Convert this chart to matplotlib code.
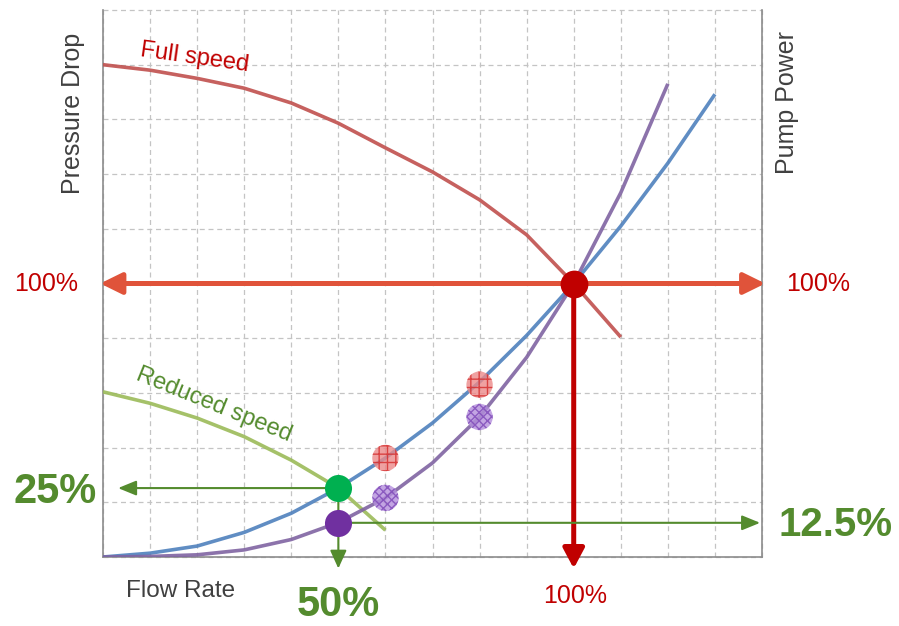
import matplotlib
matplotlib.use("Agg")
import matplotlib.pyplot as plt

plt.rcParams['font.family'] = ['Liberation Sans', 'DejaVu Sans']

# Full-speed pump curve (pressure drop vs flow)
full_x = [0, 1, 2, 3, 4, 5, 6, 7, 8, 9, 10, 11]
full_y = [9.0, 8.9, 8.75, 8.57, 8.3, 7.93, 7.48, 7.04, 6.53, 5.89, 5.0, 4.02]

# Reduced-speed pump curve
reduced_x = [0, 1, 2, 3, 4, 5, 6]
reduced_y = [3.02, 2.81, 2.54, 2.2, 1.77, 1.26, 0.49]

# System curve (pressure drop)
system_x = [0, 1, 2, 3, 4, 5, 6, 7, 8, 9, 10, 11, 12, 13]
system_y = [0, 0.07, 0.2, 0.45, 0.8, 1.26, 1.81, 2.45, 3.2, 4.05, 5.0, 6.05, 7.2, 8.46]

# Pump power curve
power_x = [0, 1, 2, 3, 4, 5, 6, 7, 8, 9, 10, 11, 12]
power_y = [0, 0.01, 0.04, 0.13, 0.32, 0.63, 1.08, 1.72, 2.56, 3.65, 5.0, 6.66, 8.65]

# Operating points
full_point = (10, 5.0)
reduced_pressure_point = (5, 1.26)
reduced_power_point = (5, 0.625)
pressure_marks_x = [6, 8]
pressure_marks_y = [1.81, 3.15]
power_marks_x = [6, 8]
power_marks_y = [1.08, 2.56]

W, H = 899, 626
fig = plt.figure(figsize=(W / 100, H / 100), dpi=100)
ax = fig.add_axes([103 / W, 1 - 557 / H, (762 - 103) / W, (557 - 10) / H])
ax.set_xlim(0, 14)
ax.set_ylim(0, 10)
ax.set_xticks(range(15))
ax.set_yticks(range(11))
ax.set_xticklabels([])
ax.set_yticklabels([])
ax.tick_params(length=0)
ax.grid(True, color='#C4C4C4', linestyle=(0, (4, 3)), linewidth=0.9)
for gl in ax.get_ygridlines() + ax.get_xgridlines():
    gl.set_clip_on(False)
ax.spines['top'].set_visible(False)
for s in ('left', 'right', 'bottom'):
    ax.spines[s].set_color('#8C8C8C')
    ax.spines[s].set_linewidth(1.2)

# Curves
ax.plot(full_x, full_y, color='#C0504D', lw=2.6, alpha=0.9, solid_capstyle='butt', zorder=3)
ax.plot(reduced_x, reduced_y, color='#9BBB59', lw=2.6, alpha=0.9, solid_capstyle='butt', zorder=3)
ax.plot(system_x, system_y, color='#4F81BD', lw=2.6, alpha=0.9, solid_capstyle='butt', zorder=3)
ax.plot(power_x, power_y, color='#8064A2', lw=2.6, alpha=0.9, solid_capstyle='butt', zorder=3)

green = '#548B2E'


def arrow(x0, y0, x1, y1, color, lw, style, scale, z=4):
    ax.annotate('', xy=(x1, y1), xytext=(x0, y0), xycoords='data',
                annotation_clip=False, zorder=z,
                arrowprops=dict(arrowstyle=style, color=color, lw=lw,
                                shrinkA=0, shrinkB=0, mutation_scale=scale))


# 100% line across the chart
arrow(-0.06, full_point[1], 14.07, full_point[1], '#E0533A', 3.6,
      '<|-|>,head_length=0.65,head_width=0.32', 20)
# Drop from full-speed operating point
arrow(full_point[0], full_point[1], full_point[0], -0.21, '#C00000', 3.6,
      '-|>,head_length=0.6,head_width=0.32', 20)
# Reduced-speed guides
arrow(reduced_pressure_point[0], reduced_pressure_point[1], 0.32, reduced_pressure_point[1],
      green, 1.5, '-|>,head_length=1.1,head_width=0.45', 10)
arrow(reduced_pressure_point[0], reduced_pressure_point[1], reduced_pressure_point[0], -0.21,
      green, 1.5, '-|>,head_length=1.1,head_width=0.5', 10)
arrow(reduced_power_point[0], reduced_power_point[1], 13.96, reduced_power_point[1],
      green, 1.5, '-|>,head_length=1.1,head_width=0.45', 10)

# Markers
ax.scatter(pressure_marks_x, pressure_marks_y, s=360, facecolors='#EC8A8A',
           edgecolors='#D42A2A', linewidths=0, hatch='++', alpha=0.8, zorder=5)
ax.scatter(power_marks_x, power_marks_y, s=360, facecolors='#B48FDC',
           edgecolors='#7E48B8', linewidths=0, hatch='xxxx', alpha=0.8, zorder=5)
ax.scatter([full_point[0]], [full_point[1]], s=400, color='#C00000', linewidths=0, zorder=6)
ax.scatter([reduced_pressure_point[0]], [reduced_pressure_point[1]], s=380,
           color='#00B050', linewidths=0, zorder=6)
ax.scatter([reduced_power_point[0]], [reduced_power_point[1]], s=380,
           color='#7030A0', linewidths=0, zorder=6)


def ftext(x, y, s, **kw):
    fig.text(x / W, 1 - y / H, s, ha='center', va='center', **kw)


dark = '#404040'
red = '#C00000'
ftext(73, 113, 'Pressure Drop', rotation=90, fontsize=18, color=dark)
ftext(787, 103, 'Pump Power', rotation=90, fontsize=18, color=dark)
ftext(46, 284, '100%', fontsize=18, color=red)
ftext(818, 284, '100%', fontsize=18, color=red)
ftext(181, 591, 'Flow Rate', fontsize=17.5, color=dark)
ftext(575, 596, '100%', fontsize=18, color=red)
ftext(338, 605, '50%', fontsize=30, fontweight='bold', color=green)
ftext(55, 492, '25%', fontsize=30, fontweight='bold', color=green)
ftext(836, 525, '12.5%', fontsize=29, fontweight='bold', color=green)
ftext(195, 58, 'Full speed', rotation=-8, fontsize=17, color=red)
ftext(214, 405, 'Reduced speed', rotation=-22, fontsize=17, color=green)

fig.savefig('out.png', dpi=100)
